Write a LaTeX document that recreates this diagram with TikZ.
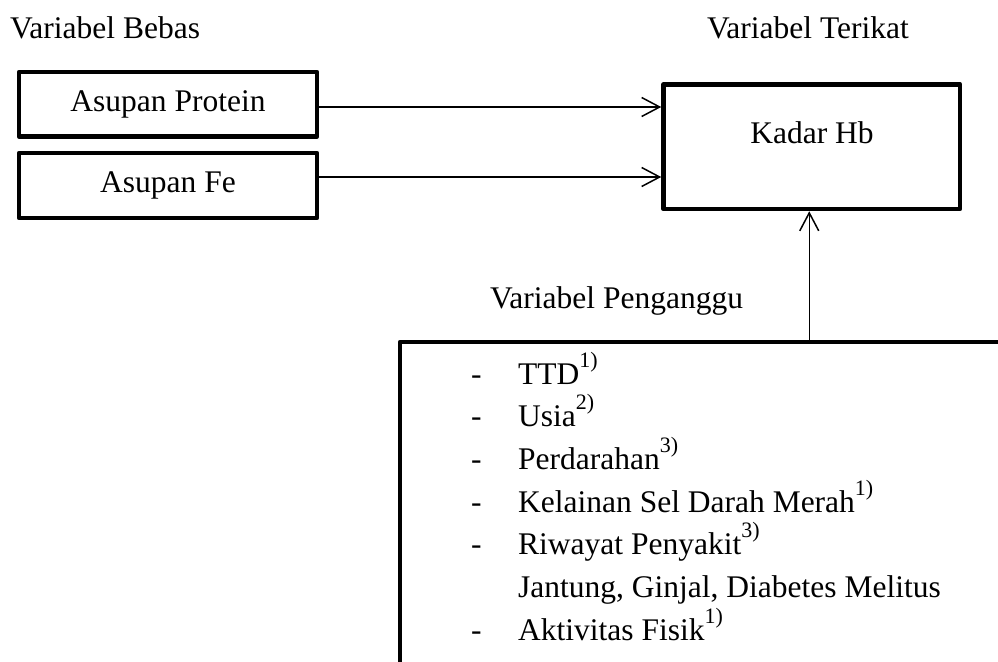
\documentclass[tikz,border=0pt]{standalone}
\usepackage{fontspec}
\setmainfont{Liberation Serif}
\usetikzlibrary{arrows.meta,calc}
\newcommand{\supnote}[1]{\raisebox{17pt}{\fontsize{22pt}{22pt}\selectfont #1)}}
\begin{document}
\begin{tikzpicture}[x=1pt,y=-1pt,
  every node/.style={font=\fontsize{31.5pt}{38pt}\selectfont, inner sep=0pt},
  boxnode/.style={draw, line width=4.5pt, line join=round, rectangle},
  arr/.style={line width=1.5pt, -{Straight Barb[length=18pt,width=19pt,line width=1.5pt]}},
  lbl/.style={anchor=base west}]
\useasboundingbox (0,0) rectangle (998,661);
\clip (0,0) rectangle (998,661);
% labels
\node[lbl] (vb) at (10,39) {Variabel Bebas};
\node[lbl] (vt) at (707,39) {Variabel Terikat};
\node[lbl] (vp) at (490,308) {Variabel Penganggu};
% boxes
\node[boxnode, minimum width=298pt, minimum height=64.5pt] (prot) at (168,104.25) {Asupan Protein};
\node[boxnode, minimum width=298pt, minimum height=65pt] (fe) at (168,185.5) {};
\node (fetext) at (168,185) {Asupan Fe};
\node[boxnode, minimum width=296.5pt, minimum height=124.7pt] (kadar) at (811.75,146.65) {};
\node[anchor=base] (kadartext) at (812,143) {Kadar Hb};
\node[boxnode, minimum width=600pt, minimum height=400pt] (conf) at (700,542) {};
% list
\node[lbl] (d1) at (471,384) {-};
\node[lbl] (t1) at (518,384) {TTD\supnote{1}};
\node[lbl] (d2) at (471,426.7) {-};
\node[lbl] (t2) at (518,426.7) {Usia\supnote{2}};
\node[lbl] (d3) at (471,469.3) {-};
\node[lbl] (t3) at (518,469.3) {Perdarahan\supnote{3}};
\node[lbl] (d4) at (471,512) {-};
\node[lbl] (t4) at (518,512) {Kelainan Sel Darah Merah\supnote{1}};
\node[lbl] (d5) at (471,554.7) {-};
\node[lbl] (t5) at (518,554.7) {Riwayat Penyakit\supnote{3}};
\node[lbl] (t6) at (518,597.3) {Jantung, Ginjal, Diabetes Melitus};
\node[lbl] (d7) at (471,640) {-};
\node[lbl] (t7) at (518,640) {Aktivitas Fisik\supnote{1}};
% connectors
\draw[arr] ([yshift=-2.75pt]prot.east) -- ([yshift=-2.75pt]prot.east -| kadar.west);
\draw[arr] ([yshift=8.5pt]fe.east) -- ([yshift=8.5pt]fe.east -| kadar.west);
\draw[arr] ([xshift=-2.5pt]conf.north -| kadar.south) -- ([xshift=-2.5pt]kadar.south);
\end{tikzpicture}
\end{document}
